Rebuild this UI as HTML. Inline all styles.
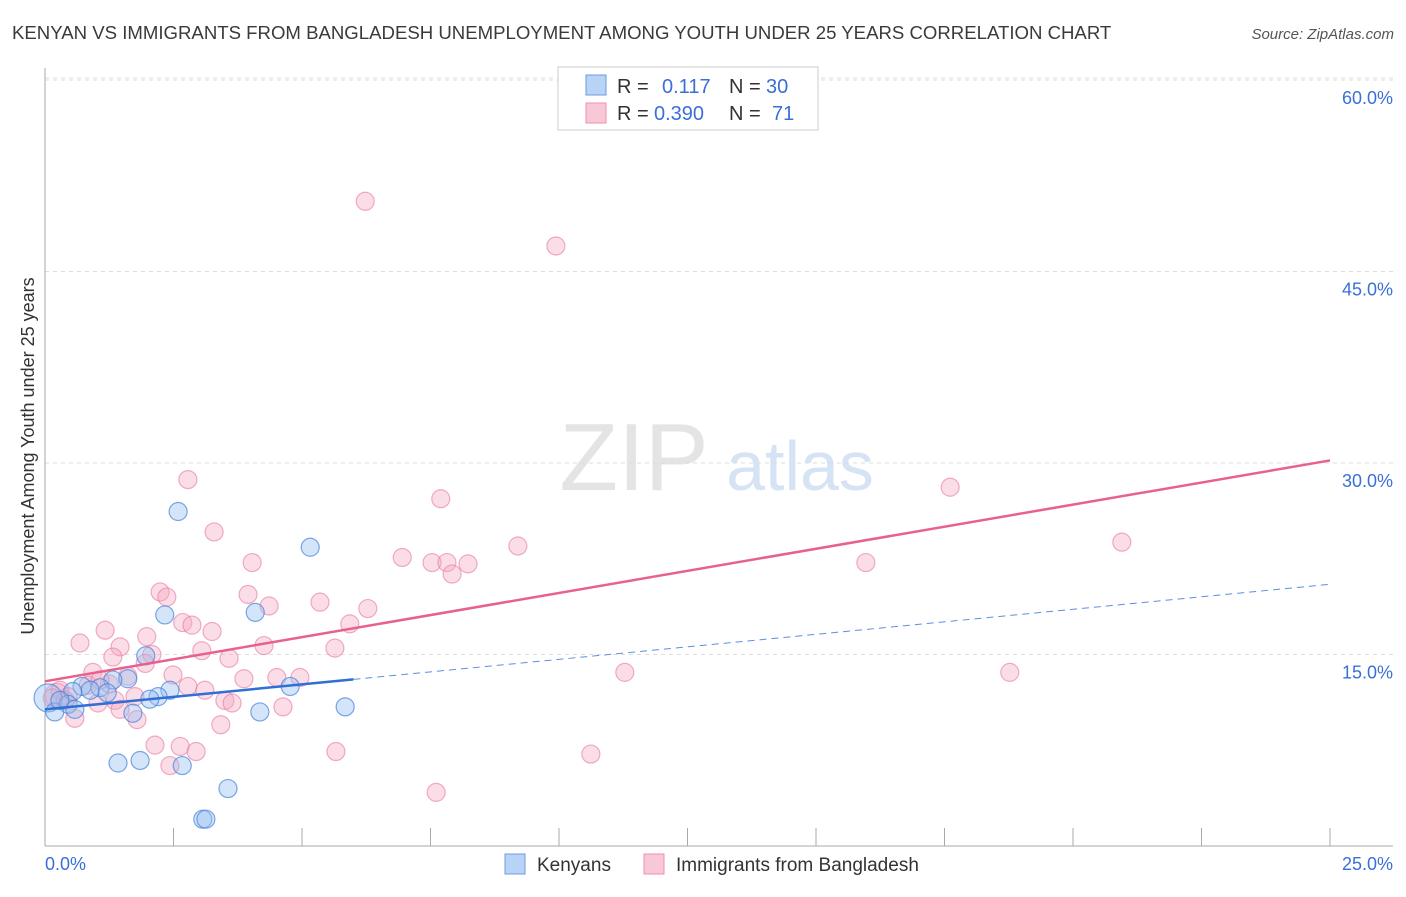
<!DOCTYPE html>
<html><head><meta charset="utf-8"><style>
body{margin:0;background:#fff;font-family:"Liberation Sans",sans-serif}
svg text{font-family:"Liberation Sans",sans-serif}
</style></head><body>
<svg width="1406" height="892" id="c">
<text x="12" y="39" font-size="18.6" fill="#3a3a3a">KENYAN VS IMMIGRANTS FROM BANGLADESH UNEMPLOYMENT AMONG YOUTH UNDER 25 YEARS CORRELATION CHART</text>
<text x="1394" y="39" font-size="15" fill="#555" text-anchor="end" font-style="italic">Source: ZipAtlas.com</text>
<text x="634" y="490" font-size="96" fill="#e4e4e4" font-family="Liberation Serif" text-anchor="middle">ZIP</text>
<text x="800" y="490" font-size="70" fill="#d5e3f5" text-anchor="middle">atlas</text>
<text transform="translate(34,456) rotate(-90)" font-size="18" fill="#333" text-anchor="middle">Unemployment Among Youth under 25 years</text>
<g id="grid"></g><g id="pts"></g><g id="lines"></g>
<g>
<rect x="558" y="67" width="260" height="63" fill="#fff" stroke="#ccc"/>
<rect x="586" y="75" width="20" height="20" fill="#b8d3f5" stroke="#6b9be0"/>
<rect x="586" y="103" width="20" height="20" fill="#f9c8d6" stroke="#ee8faf"/>
<text x="617" y="93" font-size="20" fill="#333">R =</text><text x="662" y="93" font-size="20" fill="#3a6fd8">0.117</text>
<text x="729" y="93" font-size="20" fill="#333">N =</text><text x="766" y="93" font-size="20" fill="#3a6fd8">30</text>
<text x="617" y="120" font-size="20" fill="#333">R =</text><text x="654" y="120" font-size="20" fill="#3a6fd8">0.390</text>
<text x="729" y="120" font-size="20" fill="#333">N =</text><text x="772" y="120" font-size="20" fill="#3a6fd8">71</text>
</g>
<g>
<rect x="505" y="854" width="20" height="20" fill="#b8d3f5" stroke="#6b9be0"/>
<text x="537" y="871" font-size="19" fill="#333">Kenyans</text>
<rect x="644" y="854" width="20" height="20" fill="#f9c8d6" stroke="#ee8faf"/>
<text x="676" y="871" font-size="19" fill="#333">Immigrants from Bangladesh</text>
</g>
</svg>
<script>
const xTicks=[0,2.5,5,7.5,10,12.5,15,17.5,20,22.5,25];
const yTicks=[15,30,45,60];
const yTickLabels=["15.0%","30.0%","45.0%","60.0%"];
const xLabels=["0.0%","25.0%"];
const blueX=[0.06,2.59,5.16,2.33,4.09,1.96,1.61,1.32,0.72,1.07,2.43,2.20,2.04,4.77,0.54,0.45,0.19,1.71,4.18,5.84,1.42,1.85,2.67,3.56,3.07,3.13,0.88,0.29,1.21,0.58];
const blueY=[11.6,26.2,23.4,18.1,18.3,14.9,13.1,13.0,12.5,12.4,12.2,11.7,11.5,12.5,12.1,11.1,10.5,10.4,10.5,10.9,6.5,6.7,6.3,4.5,2.1,2.1,12.2,11.4,12.0,10.7];
const pinkX=[0.23,6.23,9.94,2.78,7.70,17.61,3.29,9.20,20.95,6.95,7.53,7.82,8.23,7.92,4.03,15.97,2.24,2.37,3.95,5.35,4.36,6.28,2.68,2.86,5.93,3.25,1.17,1.98,0.68,1.46,4.26,5.64,3.05,2.08,1.32,3.58,1.95,0.93,2.49,1.61,11.28,18.77,3.87,4.51,4.96,3.11,0.84,0.29,0.45,0.14,1.36,1.75,3.50,3.64,1.03,1.46,4.63,0.58,1.79,3.42,2.14,2.63,2.94,5.66,10.62,2.43,7.61,0.39,1.25,1.07,2.78];
const pinkY=[11.8,50.5,47.0,28.7,27.2,28.1,24.6,23.5,23.8,22.6,22.2,22.2,22.1,21.3,22.2,22.2,19.9,19.5,19.7,19.1,18.8,18.6,17.5,17.3,17.4,16.8,16.9,16.4,15.9,15.6,15.7,15.5,15.3,15.0,14.8,14.7,14.3,13.6,13.4,13.3,13.6,13.6,13.1,13.2,13.2,12.2,12.6,12.2,11.7,11.6,11.4,11.7,11.4,11.2,11.2,10.7,10.9,10.0,9.9,9.5,7.9,7.8,7.4,7.4,7.2,6.3,4.2,11.4,12.7,13.0,12.5];
const pinkTrend=[12.9,30.2];
const blueTrend=[10.7,20.5];
const blueSolidEnd=6;
const X=v=>45+v/25*1285, Y=v=>846-v/15*191.5;
const NS="http://www.w3.org/2000/svg";
function mk(t,a,p){const e=document.createElementNS(NS,t);for(const k in a)e.setAttribute(k,a[k]);p.appendChild(e);return e;}
const grid=document.getElementById('grid');
yTicks.forEach((t,i)=>{
 const l=mk('line',{x1:45,x2:1393,y1:Y(t),y2:Y(t),stroke:'#ddd','stroke-dasharray':'4,4'},grid);
 
 
 const tx=mk('text',{x:1393,y:Y(t)+24,'font-size':18,fill:'#3a6fd8','text-anchor':'end'},grid);
 tx.textContent=yTickLabels[i];
 
 
});
const topLine=mk('line',{x1:45,x2:1393,y1:Y(60)-2,y2:Y(60)-2,stroke:'#ddd','stroke-dasharray':'4,4'},grid);


const ax=mk('line',{x1:45,x2:1393,y1:846,y2:846,stroke:'#aaa'},grid);


const ay=mk('line',{x1:45,x2:45,y1:68,y2:846,stroke:'#aaa'},grid);


xTicks.forEach(t=>{const l=mk('line',{x1:X(t),x2:X(t),y1:828,y2:846,stroke:'#aaa'},grid);
 
 });
const xl0=mk('text',{x:45,y:870,'font-size':18,fill:'#3a6fd8'},grid);xl0.textContent=xLabels[0];


const xl1=mk('text',{x:1393,y:870,'font-size':18,fill:'#3a6fd8','text-anchor':'end'},grid);xl1.textContent=xLabels[1];


const pts=document.getElementById('pts');
pinkX.forEach((v,i)=>{const c=mk('circle',{cx:X(v),cy:Y(pinkY[i]),r:i==0?12:9,fill:'rgba(246,170,195,0.4)',stroke:'rgba(232,120,160,0.6)','stroke-width':1.2},pts);
 
 });
blueX.forEach((v,i)=>{const c=mk('circle',{cx:X(v),cy:Y(blueY[i]),r:i==0?14:9,fill:'rgba(150,190,240,0.4)',stroke:'rgba(70,130,220,0.7)','stroke-width':1.2},pts);
 
 });
const lines=document.getElementById('lines');
const pl=mk('line',{x1:X(0),y1:Y(pinkTrend[0]),x2:X(25),y2:Y(pinkTrend[1]),stroke:'#e8608e','stroke-width':2.5},lines);


const by=x=>blueTrend[0]+(blueTrend[1]-blueTrend[0])*x/25;
const bs=mk('line',{x1:X(0),y1:Y(by(0)),x2:X(blueSolidEnd),y2:Y(by(blueSolidEnd)),stroke:'#2f6fd6','stroke-width':2.5},lines);


const bd=mk('line',{x1:X(blueSolidEnd),y1:Y(by(blueSolidEnd)),x2:X(25),y2:Y(by(25)),stroke:'#5b8fe0','stroke-width':1,'stroke-dasharray':'7,5'},lines);


</script>
</body></html>
